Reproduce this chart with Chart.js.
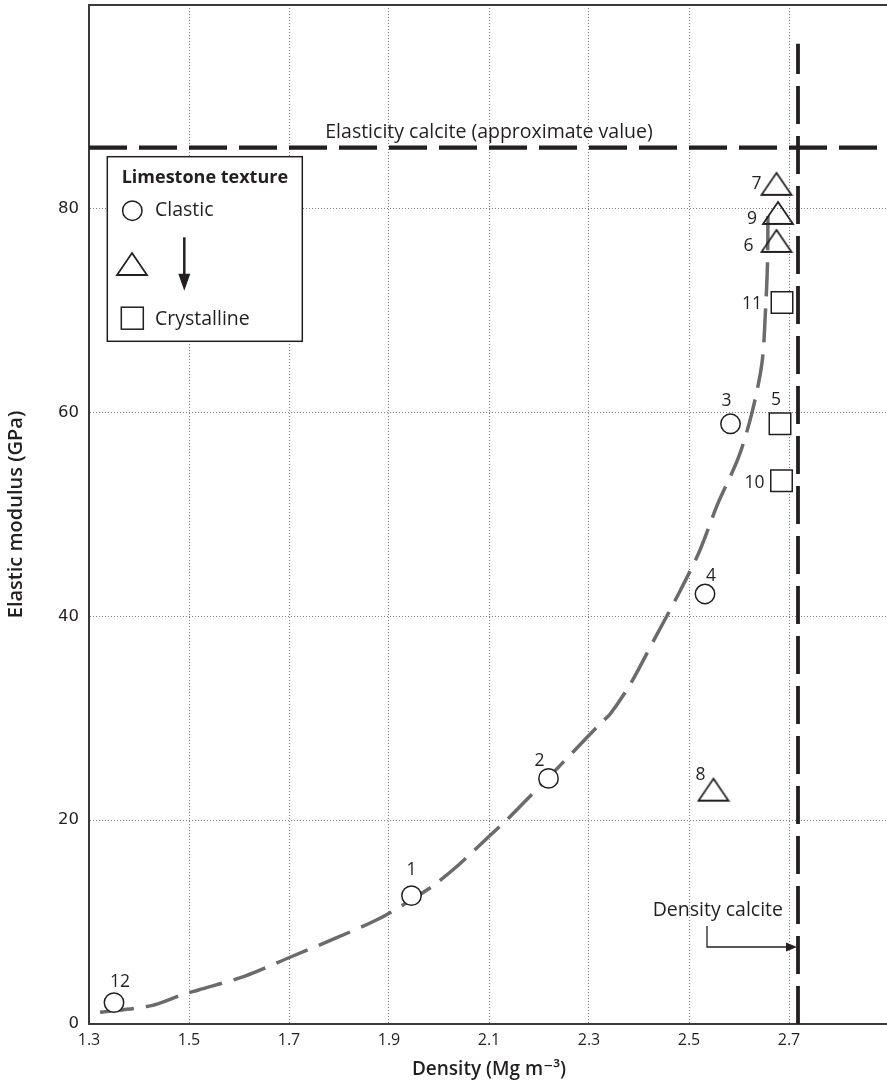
<!DOCTYPE html>
<html><head><meta charset="utf-8">
<script src="https://cdn.jsdelivr.net/npm/chart.js@4.4.1/dist/chart.umd.min.js"></script>
<style>html,body{margin:0;padding:0;overflow:hidden;background:#fff}canvas{display:block}</style>
</head><body>
<canvas id="c" width="900" height="1089"></canvas>
<script>
// ---------- data ----------
const clasticIds = ['1', '2', '3', '4', '12'];
const clasticDensity = [1.945, 2.219, 2.583, 2.532, 1.35];
const clasticModulus = [12.6, 24.1, 58.9, 42.2, 2.1];

const transIds = ['6', '7', '8', '9'];
const transDensity = [2.675, 2.675, 2.549, 2.678];
const transModulus = [76.85, 82.45, 23.0, 79.6];

const crystIds = ['5', '10', '11'];
const crystDensity = [2.682, 2.685, 2.686];
const crystModulus = [58.9, 53.3, 70.8];

const trendDensity = [1.322, 1.425, 1.485, 1.519, 1.612, 1.702, 1.792, 1.879, 1.945, 1.989, 2.039, 2.102, 2.135, 2.185, 2.219, 2.282, 2.325, 2.342, 2.382, 2.43, 2.479, 2.521, 2.557, 2.599, 2.626, 2.646, 2.653, 2.657, 2.658];
const trendModulus = [1.15, 1.8, 2.85, 3.34, 4.7, 6.55, 8.4, 10.3, 12.2, 13.6, 15.6, 18.5, 20.0, 22.5, 24.2, 27.4, 29.6, 30.4, 33.3, 37.7, 42.2, 46.4, 51.0, 55.6, 60.0, 64.9, 70.0, 74.7, 79.8];

const calciteDensity = 2.718;
const calciteModulus = 86;
const calciteLineTop = 96.2;

const xTickValues = [1.3, 1.5, 1.7, 1.9, 2.1, 2.3, 2.5, 2.7];
const xTickLabels = ['1.3', '1.5', '1.7', '1.9', '2.1', '2.3', '2.5', '2.7'];
const yTickValues = [0, 20, 40, 60, 80];
const yTickLabels = ['0', '20', '40', '60', '80'];

const xRange = [1.3, 2.9];
const yRange = [0, 100];

// ---------- styles ----------
const INK = '#231f20';
const FONT = '"Open Sans", "DejaVu Sans", sans-serif';
const labelOffset = {'1':[0,-26],'2':[-9,-17],'3':[-4,-23],'4':[6,-18],'12':[6,-21],'5':[-4,-24],'10':[-27,2],'11':[-30,1.5],'7':[-20,0],'9':[-26,6],'6':[-28,5],'8':[-13,-15]};

function triangleCanvas(w, h, lw) {
  const c = document.createElement('canvas');
  c.width = w + 4; c.height = h + 4;
  const g = c.getContext('2d');
  g.strokeStyle = INK; g.lineWidth = lw; g.lineJoin = 'miter';
  g.beginPath();
  g.moveTo(c.width / 2, 2);
  g.lineTo(c.width / 2 + w / 2, 2 + h);
  g.lineTo(c.width / 2 - w / 2, 2 + h);
  g.closePath();
  g.stroke();
  return c;
}
const triImg = triangleCanvas(30, 22, 1.8);

const pts = (xs, ys) => xs.map((v, i) => ({x: v, y: ys[i]}));

const annot = {
  id: 'annot',
  afterDatasetsDraw(chart) {
    const {ctx, chartArea: ca, scales: {x, y}} = chart;
    ctx.save();
    // top frame
    ctx.strokeStyle = '#3a3a3a'; ctx.lineWidth = 2;
    ctx.beginPath(); ctx.moveTo(ca.left, ca.top); ctx.lineTo(ca.right + 20, ca.top); ctx.stroke();

    ctx.fillStyle = INK;
    ctx.textBaseline = 'middle';
    // point number labels
    chart.data.datasets.forEach((ds, di) => {
      if (!ds.ids) return;
      const meta = chart.getDatasetMeta(di);
      ctx.font = '17.5px ' + FONT;
      ctx.textAlign = 'center';
      meta.data.forEach((el, i) => {
        const id = ds.ids[i];
        const o = labelOffset[id] || [0, -20];
        ctx.fillText(id, el.x + o[0], el.y + o[1]);
      });
    });

    // elasticity calcite text
    const hy = y.getPixelForValue(calciteModulus);
    ctx.font = '19.5px ' + FONT;
    ctx.textAlign = 'center';
    ctx.fillText('Elasticity calcite (approximate value)', x.getPixelForValue(2.1), hy - 15);

    // density calcite text + arrow
    const vx = x.getPixelForValue(calciteDensity);
    ctx.textAlign = 'right';
    ctx.fillText('Density calcite', vx - 15, ca.bottom - 114);
    ctx.strokeStyle = INK; ctx.lineWidth = 1.3;
    const ax = vx - 91, ay = ca.bottom - 77;
    ctx.beginPath();
    ctx.moveTo(ax, ca.bottom - 98); ctx.lineTo(ax, ay); ctx.lineTo(vx - 10, ay);
    ctx.stroke();
    ctx.beginPath();
    ctx.moveTo(vx - 1, ay); ctx.lineTo(vx - 12, ay - 4.5); ctx.lineTo(vx - 12, ay + 4.5); ctx.closePath();
    ctx.fill();

    // legend box
    const bx = ca.left + 18.3, by = ca.top + 151.7, bw = 195, bh = 184.6;
    ctx.fillStyle = '#fff';
    ctx.fillRect(bx, by, bw, bh);
    ctx.strokeStyle = INK; ctx.lineWidth = 1.5;
    ctx.strokeRect(bx, by, bw, bh);
    ctx.fillStyle = INK;
    ctx.textAlign = 'left';
    ctx.font = 'bold 18px ' + FONT;
    ctx.fillText('Limestone texture', bx + 14.4, by + 21);
    ctx.font = '19.5px ' + FONT;
    ctx.fillText('Clastic', bx + 47.7, by + 54);
    ctx.fillText('Crystalline', bx + 47.7, by + 162.5);
    ctx.lineWidth = 1.5;
    ctx.beginPath(); ctx.arc(bx + 25, by + 54, 9.7, 0, Math.PI * 2); ctx.stroke();
    ctx.drawImage(triImg, bx + 24.7 - triImg.width / 2, by + 107.3 - triImg.height / 2);
    ctx.strokeRect(bx + 14, by + 150.5, 22, 22);
    // arrow
    ctx.lineWidth = 2.5;
    ctx.beginPath(); ctx.moveTo(bx + 77, by + 80.6); ctx.lineTo(bx + 77, by + 120); ctx.stroke();
    ctx.beginPath();
    ctx.moveTo(bx + 77, by + 134); ctx.lineTo(bx + 71, by + 117); ctx.lineTo(bx + 83, by + 117); ctx.closePath();
    ctx.fill();
    ctx.restore();
  }
};

new Chart(document.getElementById('c'), {
  type: 'scatter',
  data: {
    datasets: [
      {label: 'Clastic', ids: clasticIds, data: pts(clasticDensity, clasticModulus),
       pointStyle: 'circle', pointRadius: 9.7, pointBorderWidth: 1.5, pointBorderColor: INK, pointBackgroundColor: '#fff'},
      {label: 'Transitional', ids: transIds, data: pts(transDensity, transModulus),
       pointStyle: triImg, pointRadius: 15},
      {label: 'Crystalline', ids: crystIds, data: pts(crystDensity, crystModulus),
       pointStyle: 'rect', pointRadius: 15.2, pointBorderWidth: 1.5, pointBorderColor: INK, pointBackgroundColor: '#fff'},
      {label: 'Trend', data: pts(trendDensity, trendModulus), showLine: true, pointRadius: 0,
       borderColor: '#6b6b6b', borderWidth: 3.5, borderDash: [34, 12], tension: 0.3, borderCapStyle: 'butt'},
      {label: 'Elasticity calcite', data: pts(xRange, [calciteModulus, calciteModulus]), showLine: true, pointRadius: 0,
       borderColor: INK, borderWidth: 4.2, borderDash: [38, 12], borderCapStyle: 'butt'},
      {label: 'Density calcite', data: pts([calciteDensity, calciteDensity], [0, calciteLineTop]), showLine: true, pointRadius: 0,
       borderColor: INK, borderWidth: 3.8, borderDash: [38, 12], borderCapStyle: 'butt'}
    ]
  },
  options: {
    responsive: false, animation: false,
    layout: {autoPadding: false, padding: {top: 5, right: 11, left: 0, bottom: 0}},
    plugins: {legend: {display: false}, tooltip: {enabled: false}},
    scales: {
      x: {
        type: 'linear', min: xRange[0], max: xRange[1],
        afterBuildTicks: s => { s.ticks = xTickValues.map(v => ({value: v})); },
        afterFit: s => { s.height = 65; s.paddingLeft = 0; s.paddingRight = 0; },
        ticks: {callback: (v, i) => xTickLabels[i], color: INK, font: {family: FONT, size: 16}, padding: 7, maxRotation: 0, autoSkip: false},
        grid: {color: '#808080', lineWidth: 1, drawTicks: false},
        border: {display: true, color: '#3a3a3a', width: 2, dash: [1, 2]},
        title: {display: true, text: 'Density (Mg m\u207B\u00B3)', color: INK, font: {family: FONT, size: 19, weight: '600'}, padding: {top: 0, bottom: 8}}
      },
      y: {
        type: 'linear', min: yRange[0], max: yRange[1],
        afterBuildTicks: s => { s.ticks = yTickValues.map(v => ({value: v})); },
        afterFit: s => { s.width = 89; s.paddingTop = 0; s.paddingBottom = 0; },
        ticks: {callback: (v, i) => yTickLabels[i], color: INK, font: {family: '"DejaVu Sans", sans-serif', size: 16.5}, padding: 10, autoSkip: false},
        grid: {color: '#808080', lineWidth: 1, drawTicks: false},
        border: {display: true, color: '#3a3a3a', width: 2, dash: [1, 2]},
        title: {display: true, text: 'Elastic modulus (GPa)', color: INK, font: {family: FONT, size: 20, weight: '600'}, padding: {top: 4, bottom: 0}}
      }
    }
  },
  plugins: [annot]
});
</script>
</body></html>
